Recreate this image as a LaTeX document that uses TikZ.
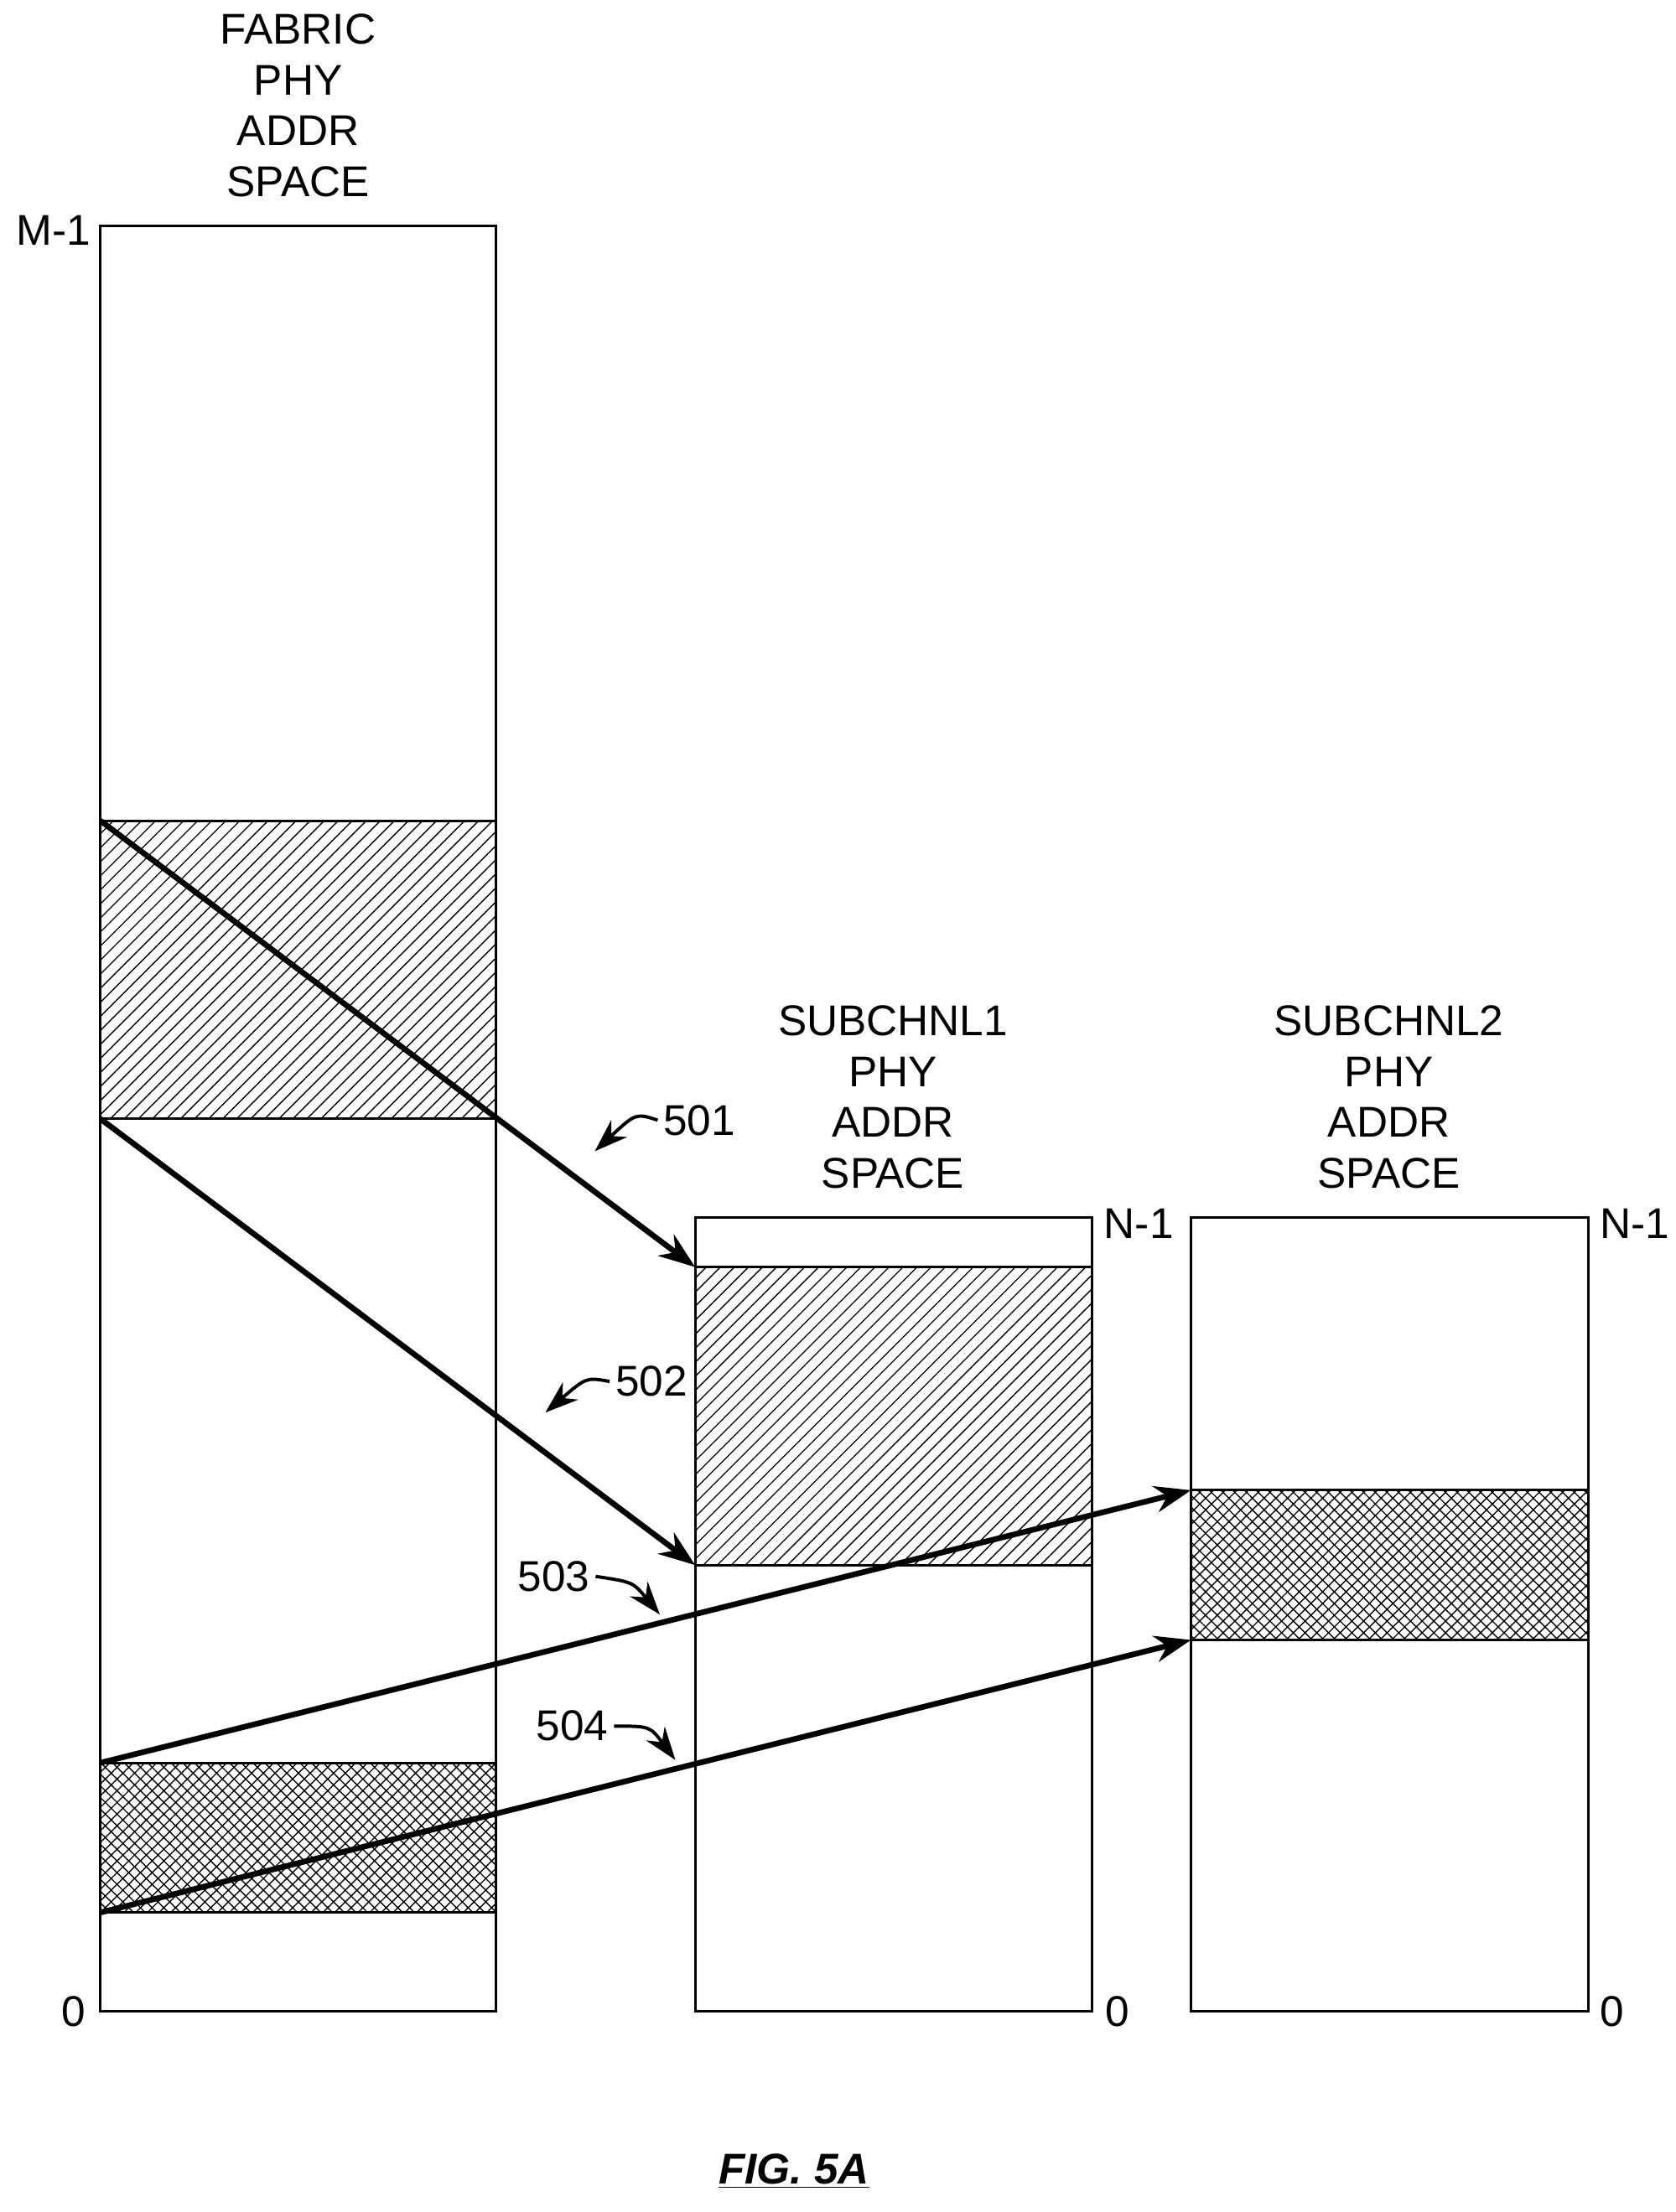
\documentclass[tikz,border=0pt]{standalone}
\usepackage{fontspec}
\setmainfont{Liberation Sans}
\usetikzlibrary{patterns.meta,arrows.meta}
\begin{document}
\begin{tikzpicture}
    [
      x=0.03cm, y=-0.03cm,
      font=\fontsize{26}{30.6}\selectfont,
      space/.style=
      {
        draw,
        line width=1.6pt,
        fill=white,
      },
      hatch/.style=
      {
        draw,
        line width=1.6pt,
        pattern={Lines[angle=45,distance=6pt,line width=0.7pt]},
      },
      crossa/.style=
      {
        pattern={Lines[angle=45,distance=5pt,line width=0.7pt]},
      },
      crossb/.style=
      {
        draw,
        line width=1.6pt,
        pattern={Lines[angle=-45,distance=5pt,line width=0.7pt]},
      },
      map/.style=
      {
        line width=3.4pt,
        -{Stealth[length=22pt,width=16pt]},
      },
      tag/.style=
      {
        line width=2pt,
        -{Stealth[length=20pt,width=14pt]},
      },
      title/.style=
      {
        align=center,
        anchor=north,
      }
    ]
    \useasboundingbox (0,0) rectangle (1186,1566);
    % address spaces
    \draw[space] (71,160) rectangle (351,1424);
    \draw[space] (492,862) rectangle (773,1424);
    \draw[space] (843,862) rectangle (1124,1424);
    \draw[hatch] (71,581) rectangle (351,792);
    \fill[crossa] (71,1248) rectangle (351,1354);
    \draw[crossb] (71,1248) rectangle (351,1354);
    \draw[hatch] (492,897) rectangle (773,1108);
    \fill[crossa] (843,1055) rectangle (1124,1161);
    \draw[crossb] (843,1055) rectangle (1124,1161);
    % mapping ends
    \coordinate (FabA) at (71,581);
    \coordinate (FabB) at (71,792);
    \coordinate (FabC) at (71,1248);
    \coordinate (FabD) at (71,1354);
    \coordinate (SubA) at (492,897);
    \coordinate (SubB) at (492,1108);
    \coordinate (SubC) at (843,1055);
    \coordinate (SubD) at (843,1161);
    \draw[map] (FabA) -- (SubA);
    \draw[map] (FabB) -- (SubB);
    \draw[map] (FabC) -- (SubC);
    \draw[map] (FabD) -- (SubD);
    % titles
    \node[title](FabTitle) at (211,6) {FABRIC\\PHY\\ADDR\\SPACE};
    \node[title](SubOneTitle) at (632,708) {SUBCHNL1\\PHY\\ADDR\\SPACE};
    \node[title](SubTwoTitle) at (983,708) {SUBCHNL2\\PHY\\ADDR\\SPACE};
    \node(FabTop) at (38,163) {M-1};
    \node(FabZero) at (52,1424) {0};
    \node(SubOneTop) at (806,866) {N-1};
    \node(SubOneZero) at (791,1424) {0};
    \node(SubTwoTop) at (1157,866) {N-1};
    \node(SubTwoZero) at (1141,1424) {0};
    % reference numerals
    \node(L501) at (495,793) {501};
    \node(L502) at (461,978) {502};
    \node(L503) at (392,1116) {503};
    \node(L504) at (405,1222) {504};
    \coordinate (T501) at (421,815);
    \coordinate (T502) at (386,1000);
    \coordinate (T503) at (467,1143);
    \coordinate (T504) at (478,1246);
    \draw[tag] (L501.west) .. controls (450,788) .. (T501);
    \draw[tag] (L502.west) .. controls (415,975) .. (T502);
    \draw[tag] (L503.east) .. controls (448,1120) .. (T503);
    \draw[tag] (L504.east) .. controls (460,1222) .. (T504);
    \node(Fig) at (562,1537) {\bfseries\itshape\underline{FIG. 5A}};
\end{tikzpicture}
\end{document}
